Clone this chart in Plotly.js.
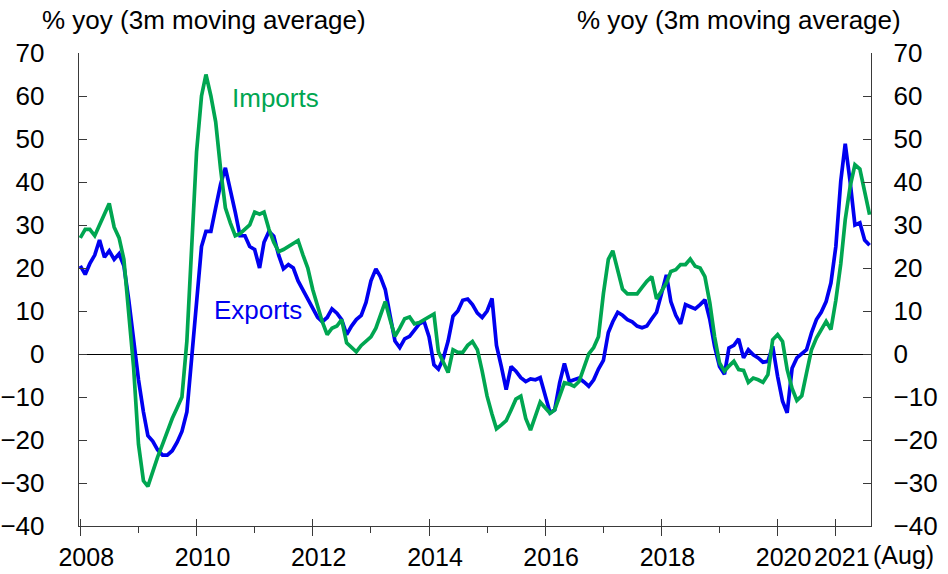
<!DOCTYPE html>
<html><head><meta charset="utf-8">
<script src="https://cdn.plot.ly/plotly-3.0.1.min.js"></script>
<style>html,body{margin:0;padding:0;background:#fff}#chart{width:948px;height:574px}</style>
</head><body><div id="chart"></div>
<script>
// Monthly series, Jan 2008 .. Aug 2021 (164 months)
const startYear = 2008;
const nMonths = 164;
const months = [];
for (let k = 0; k < nMonths; k++) {
  const y = startYear + Math.floor(k / 12);
  const m = (k % 12) + 1;
  months.push(y + '-' + String(m).padStart(2, '0') + '-01');
}

const imports = [
  27, 29, 29, 27.5, 30, 32.5, 35, 29.5, 27, 22, 10, -3,
  -21, -29.5, -30.8, -27, -24, -21, -18, -15, -12.5, -10, 3, 25,
  47, 60, 65, 60, 54, 43, 34, 30.5, 27.5, 28, 29, 30,
  33, 32.5, 33, 29, 26, 23.8, 24.3, 25, 25.5, 26.4, 23, 20,
  15, 10.7, 7.5, 4.5, 6, 6.5, 8, 2.6, 1.5, 0.5, 2, 3,
  4, 6, 9, 12.2, 8, 4.1, 6, 8.2, 8.6, 7, 7.3, 8,
  8.5, 9.3, 0.5, -2, -4.3, 1, 0.4, 0.4, 2, 2.9, 1, -4,
  -9.8, -14, -17.4, -16.5, -15.5, -13, -10.5, -9.8, -15, -17.7, -14.5, -11.2,
  -12.5, -13.8, -13, -10, -6.7, -7, -7.5, -6.4, -3, 0, 1.5, 4,
  14, 22, 24, 19, 15.1, 14, 14, 14, 15.5, 16.9, 18, 12.8,
  14.6, 16.5, 19.2, 19.6, 20.8, 20.8, 22.1, 20.4, 20, 18, 11.9, 4,
  -2.1, -4, -2.8, -1.7, -3.6, -3.8, -6.6, -5.6, -6, -6.6, -4.8, 3.3,
  4.5, 2.9, -3.6, -8, -10.8, -9.7, -4.4, 1, 3.7, 5.5, 7.6, 5.7,
  12.5, 21, 31.2, 39, 44, 43, 38.2, 32.4
];

const exportsSeries = [
  20.5, 18.5, 21, 23, 26.5, 22.5, 24, 22, 23.3, 20.5, 12.5, 3.5,
  -6, -13.5, -19, -20.3, -22.3, -23.5, -23.5, -22.5, -20.5, -18, -13.5, -1,
  12, 25, 28.5, 28.5, 34, 39.5, 43.3, 38.5, 33, 27.5, 27.5, 25,
  24.3, 20, 26, 28.5, 27.4, 23, 19.8, 20.8, 20, 17, 14.8, 12.5,
  10.7, 8.5, 7.5, 8.5, 10.5, 9.5, 8, 4.5, 6.5, 8, 9, 12,
  17, 19.8, 18, 15, 9, 3, 1.5, 3.5, 4.1, 5.5, 7, 7.6,
  4, -2.5, -3.5, -1, 3, 8.8, 10, 12.5, 12.8, 11.5, 9.5, 8.5,
  10, 12.9, 2, -3, -8.3, -2.9, -4, -5.5, -6.4, -5.8, -6, -5.5,
  -9.8, -13.7, -13, -6.7, -2.2, -6.4, -6, -5.6, -6.5, -7.5, -6, -3.5,
  -1.5, 5, 7.5, 9.7, 9, 8, 7.5, 6.5, 6.1, 6.5, 8.2, 9.7,
  14, 18.4, 12.2, 9, 7, 11.5, 11, 10.5, 11.5, 12.6, 8, 1.8,
  -2.9, -4.7, 1.4, 2, 3.5, -0.9, 1, -0.2, -0.9, -1.9, -1.7, 1.8,
  -5.2, -11, -13.7, -3.3, -0.9, 0, 1, 4.9, 8, 9.7, 12.2, 16.5,
  25, 40.2, 48.9, 40, 30, 30.5, 26.5, 25.3
];

const yTicks = [-40, -30, -20, -10, 0, 10, 20, 30, 40, 50, 60, 70];
const majorYears = ['2008', '2010', '2012', '2014', '2016', '2018', '2020', '2021'];
const minorYears = ['2009', '2011', '2013', '2015', '2017', '2019'];
const axisTitle = '% yoy (3m moving average)';
const lastMonthNote = '(Aug)';

const majorVals = majorYears.map(y => y + '-01-01');
const minorVals = minorYears.map(y => y + '-01-01');
const xRange = ['2007-12-24', '2021-08-10'];

const FONT = 'Liberation Sans, Arial, sans-serif';
const AX = '#3a3a3a';
const BLUE = '#0000F0';
const GREEN = '#00A651';

const traces = [
  { x: months, y: exportsSeries, type: 'scatter', mode: 'lines', name: 'Exports',
    line: { color: BLUE, width: 3.7 }, xaxis: 'x', yaxis: 'y', hoverinfo: 'x+y' },
  { x: months, y: imports, type: 'scatter', mode: 'lines', name: 'Imports',
    line: { color: GREEN, width: 3.7 }, xaxis: 'x2', yaxis: 'y2', hoverinfo: 'x+y' }
];

const yCommon = {
  range: [-40, 70], tickmode: 'array', tickvals: yTicks, ticks: 'inside', ticklen: 8,
  tickcolor: AX, tickwidth: 1, showline: true, linecolor: AX, linewidth: 1.3,
  showgrid: false, tickfont: { family: FONT, size: 26, color: '#000' }, fixedrange: true
};

const layout = {
  width: 948, height: 574,
  margin: { l: 79, r: 77, t: 53, b: 48 },
  paper_bgcolor: '#fff', plot_bgcolor: '#fff',
  showlegend: false,
  font: { family: FONT, size: 26, color: '#000' },
  xaxis: {
    type: 'date', range: xRange, anchor: 'y',
    tickmode: 'array', tickvals: majorVals, ticktext: majorYears, tickangle: 0,
    ticks: 'outside', ticklen: 9, tickcolor: AX, tickwidth: 1,
    ticklabelshift: 6, ticklabelstandoff: 0,
    minor: { tickmode: 'array', tickvals: minorVals, ticks: 'outside', ticklen: 6, tickcolor: AX, tickwidth: 1 },
    showline: true, linecolor: AX, linewidth: 1.3, showgrid: false, zeroline: false,
    tickfont: { family: FONT, size: 25, color: '#000' }, fixedrange: true
  },
  xaxis2: {
    type: 'date', range: xRange, overlaying: 'x', anchor: 'y2', side: 'bottom',
    tickmode: 'array', tickvals: majorVals, ticks: 'inside', ticklen: 7,
    tickcolor: AX, tickwidth: 1, showticklabels: false, showline: false,
    showgrid: false, zeroline: false, fixedrange: true
  },
  yaxis: Object.assign({}, yCommon, {
    anchor: 'x', side: 'left', zeroline: true, zerolinecolor: '#000', zerolinewidth: 1,
    ticklabelstandoff: 28
  }),
  yaxis2: Object.assign({}, yCommon, {
    anchor: 'x2', overlaying: 'y', side: 'right', zeroline: false,
    ticklabelstandoff: 16
  }),
  annotations: [
    { xref: 'paper', yref: 'paper', x: -0.049, y: 1.07, xanchor: 'left', yanchor: 'middle',
      text: axisTitle, showarrow: false, font: { family: FONT, size: 26, color: '#000' } },
    { xref: 'paper', yref: 'paper', x: 1.04, y: 1.07, xanchor: 'right', yanchor: 'middle',
      text: axisTitle, showarrow: false, font: { family: FONT, size: 26, color: '#000' } },
    { xref: 'paper', yref: 'paper', x: 1.0, y: -0.062, xanchor: 'left', yanchor: 'middle',
      text: lastMonthNote, showarrow: false, font: { family: FONT, size: 25, color: '#000' } },
    { xref: 'x2', yref: 'y2', x: '2011-05-15', y: 59.5, xanchor: 'center', yanchor: 'middle',
      text: 'Imports', showarrow: false, font: { family: FONT, size: 26, color: GREEN } },
    { xref: 'x', yref: 'y', x: '2011-01-20', y: 10.2, xanchor: 'center', yanchor: 'middle',
      text: 'Exports', showarrow: false, font: { family: FONT, size: 26, color: BLUE } }
  ]
};

Plotly.newPlot('chart', traces, layout, { staticPlot: true, displayModeBar: false });
</script>
</body></html>
